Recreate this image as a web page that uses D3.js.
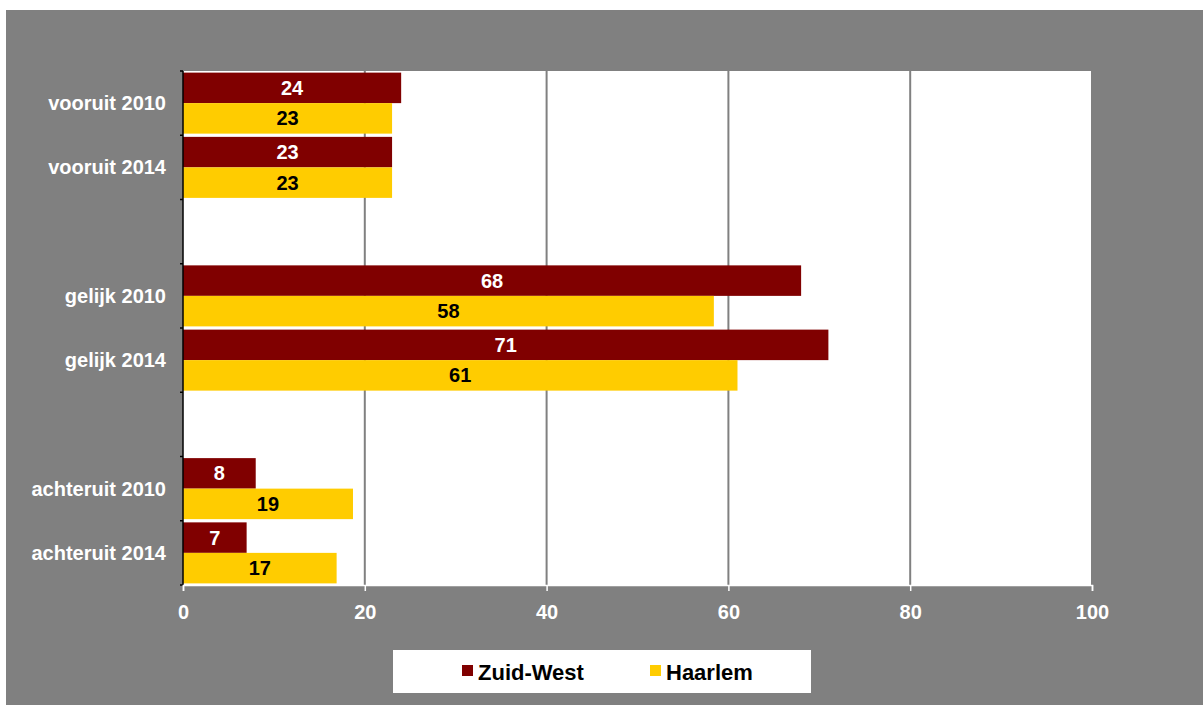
<!DOCTYPE html>
<html><head><meta charset="utf-8">
<script src="https://cdn.jsdelivr.net/npm/d3@7"></script>
<style>body{margin:0;background:#fff;} svg{display:block;}</style>
</head><body>
<script>
const categories = ["vooruit 2010","vooruit 2014","","gelijk 2010","gelijk 2014"," ","achteruit 2010","achteruit 2014"];
const zuidWest = [24, 23, null, 68, 71, null, 8, 7];
const haarlem = [23, 23, null, 58.4, 61, null, 18.7, 16.9];
const seriesNames = ["Zuid-West", "Haarlem"];
const seriesColors = ["#800000", "#FFCC00"];
const labelColors = ["#ffffff", "#000000"];
const xTicks = [0, 20, 40, 60, 80, 100];

(function () {
const W = 1203, H = 705;
const svg = d3.select("body").append("svg").attr("width", W).attr("height", H);
svg.append("rect").attr("x", 6).attr("y", 10).attr("width", W - 6).attr("height", H - 10).attr("fill", "#808080");

const pLeft = 183, pRight = 1092, pTop = 71, pBottom = 585;
const x = d3.scaleLinear().domain([0, 100]).range([pLeft, pRight]);
const y = d3.scaleBand().domain(categories).range([pTop, pBottom]).padding(0);
const ys = d3.scaleBand().domain(seriesNames).range([0, y.bandwidth()]).paddingInner(0).paddingOuter(0.053);

svg.append("rect").attr("x", pLeft).attr("y", pTop).attr("width", pRight - pLeft).attr("height", pBottom - pTop).attr("fill", "#fff");

// gridlines
svg.append("g").selectAll("line").data(xTicks.filter(d => d > 0)).join("line")
  .attr("x1", d => x(d)).attr("x2", d => x(d)).attr("y1", pTop).attr("y2", pBottom)
  .attr("stroke", "#808080").attr("stroke-width", 2);

const fontFam = "'Liberation Sans', Arial, sans-serif";
const rows = [];
categories.forEach((c, i) => {
  [zuidWest[i], haarlem[i]].forEach((v, s) => {
    if (v != null) rows.push({cat: c, s, v});
  });
});

const g = svg.append("g");
g.selectAll("rect").data(rows).join("rect")
  .attr("x", x(0)).attr("y", d => y(d.cat) + ys(seriesNames[d.s]))
  .attr("width", d => x(d.v) - x(0)).attr("height", ys.bandwidth())
  .attr("fill", d => seriesColors[d.s]);

g.selectAll("text").data(rows).join("text")
  .attr("x", d => (x(0) + x(d.v)) / 2)
  .attr("y", d => y(d.cat) + ys(seriesNames[d.s]) + ys.bandwidth() / 2)
  .attr("dy", "0.35em").attr("text-anchor", "middle")
  .attr("fill", d => labelColors[d.s])
  .style("font", `bold 20px ${fontFam}`)
  .text(d => d3.format(".0f")(d.v));

// y axis
const yAxis = svg.append("g").attr("transform", `translate(${pLeft},0)`);
yAxis.append("line").attr("x1", 0).attr("x2", 0).attr("y1", pTop).attr("y2", pBottom).attr("stroke", "#000").attr("stroke-width", 1.5);
const bounds = categories.map(c => y(c)).concat([pBottom]);
yAxis.selectAll("line.t").data(bounds).join("line").attr("class", "t")
  .attr("x1", -3).attr("x2", 0).attr("y1", d => d).attr("y2", d => d)
  .attr("stroke", "#000").attr("stroke-width", 1.5);
yAxis.selectAll("text").data(categories).join("text")
  .attr("x", -17).attr("y", d => y(d) + y.bandwidth() / 2).attr("dy", "0.35em")
  .attr("text-anchor", "end").attr("fill", "#fff")
  .style("font", `bold 20px ${fontFam}`).text(d => d.trim());

// x axis
const xAxis = svg.append("g").attr("transform", `translate(0,${pBottom})`)
  .call(d3.axisBottom(x).tickValues(xTicks).tickSize(6).tickPadding(14).tickFormat(d3.format("d")));
xAxis.select(".domain").attr("stroke", "#fff").attr("stroke-width", 1.5);
xAxis.selectAll(".tick line").attr("stroke", "#fff").attr("stroke-width", 1.5);
xAxis.selectAll(".tick text").attr("fill", "#fff").style("font", `bold 20px ${fontFam}`);

// legend
const leg = svg.append("g");
leg.append("rect").attr("x", 393).attr("y", 650).attr("width", 418).attr("height", 43).attr("fill", "#fff");
const legX = [462, 650];
seriesNames.forEach((n, i) => {
  leg.append("rect").attr("x", legX[i]).attr("y", 665).attr("width", 11).attr("height", 11).attr("fill", seriesColors[i]);
  leg.append("text").attr("x", legX[i] + 16).attr("y", 680).attr("fill", "#000")
    .style("font", `bold 22px ${fontFam}`).text(n);
});
})();
</script>
</body></html>
